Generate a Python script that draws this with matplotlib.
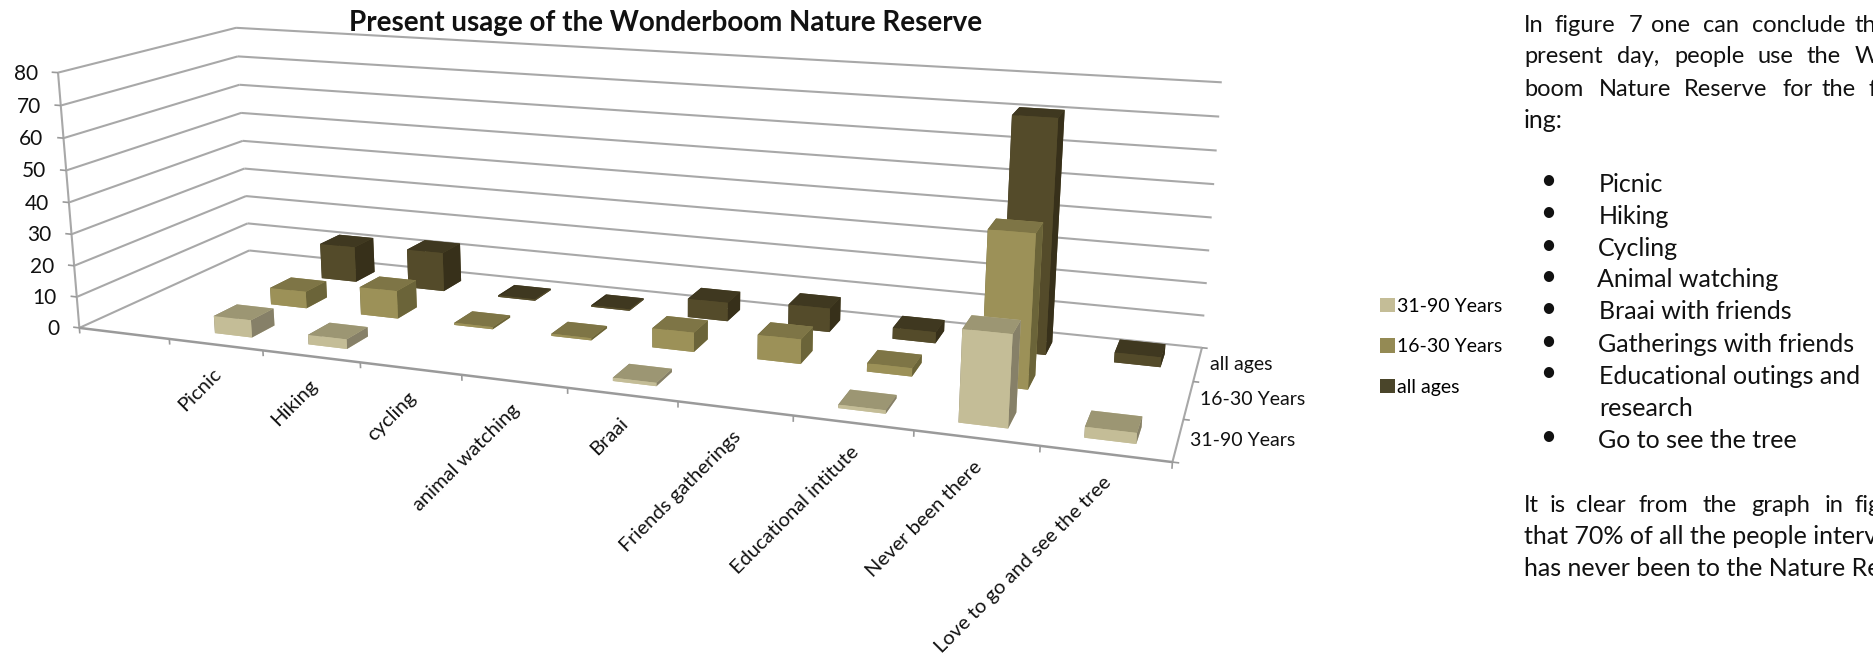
import numpy as np
import matplotlib
matplotlib.use("Agg")
import matplotlib.pyplot as plt
from matplotlib.patches import Patch
from mpl_toolkits.mplot3d import proj3d
from mpl_toolkits.mplot3d.art3d import Line3DCollection

# ---------- data ----------
title = "Present usage of the Wonderboom Nature Reserve"
categories = ["Picnic", "Hiking", "cycling", "animal watching", "Braai",
              "Friends gatherings", "Educational intitute", "Never been there",
              "Love to go and see the tree"]
series_names = ["31-90 Years", "16-30 Years", "all ages"]
young_old = [5.5, 3, 0, 0, 1, 0, 1, 26, 3]      # 31-90 Years
youth = [5.5, 9, 0.7, 0.7, 6, 7.5, 2.5, 45, 0]  # 16-30 Years
all_ages = [12, 13, 0.5, 0.5, 6, 7.5, 3.5, 71, 3]  # all ages
series_values = [young_old, youth, all_ages]
value_ticks = [0, 10, 20, 30, 40, 50, 60, 70, 80]

# face colours per series: front, top, side
front = ["#C4BD97", "#9C9158", "#544B2A"]
top = ["#9C9673", "#7E7546", "#3F3820"]
side = ["#868068", "#6B6439", "#37301A"]
legend_colors = ["#C4BD97", "#948A54", "#4A452A"]

FONT = "Lato"
W, H = 1874, 655
GRID = "#A8A8A8"
AXIS = "#9A9A9A"

# ---------- camera: a 3D view fitted to the reference's wall corners ----------
camera_fit = [
    ((0, 0, 0), (79, 328)), ((0, 0, 80), (59, 72)),
    ((0, 3, 0), (250, 251)), ((0, 3, 80), (235, 28)),
    ((10, 3, 0), (1202, 347)), ((10, 3, 80), (1222, 83)),
    ((10, 0, 0), (1172, 462)), ((10, 1, 0), (1184, 418)), ((10, 2, 0), (1193, 381)),
    ((1, 0, 0), (169, 339)), ((3, 0, 0), (360, 362)), ((5, 0, 0), (568, 388)),
    ((7, 0, 0), (793, 416)), ((9, 0, 0), (1040, 448)),
    ((0, 0, 40), (69, 202)),
]
A, b = [], []
for (X, Y, Z), (u, v) in camera_fit:
    A.append([X, Y, Z, 1, 0, 0, 0, 0, -u * X, -u * Y, -u * Z]); b.append(u)
    A.append([0, 0, 0, 0, X, Y, Z, 1, -v * X, -v * Y, -v * Z]); b.append(v)
p = np.linalg.lstsq(np.array(A, float), np.array(b, float), rcond=None)[0]
M = np.array([[p[0], p[1], p[2], p[3]],
              [p[4], p[5], p[6], p[7]],
              [-0.002, 0.1, -0.0005, 0.0],
              [p[8], p[9], p[10], 1.0]])

plt.rcParams["font.family"] = [FONT, "DejaVu Sans"]
fig = plt.figure(figsize=(W / 100, H / 100), dpi=100, facecolor="white")
ax = fig.add_axes([0, 0, 1, 1], projection="3d", computed_zorder=False)
ax.get_proj = lambda: M
ax.apply_aspect = lambda position=None: None
ax.M = M
ax.set_axis_off()


def to_px(x, y, z):
    u, v, _ = proj3d.proj_transform(x, y, z, M)
    return float(u), float(v)


def px_text(u, v, s, **kw):
    return ax.text2D(u, v, s, transform=ax.transData, **kw)


# ---------- walls ----------
grid_segments, axis_segments, thick_segments = [], [], []
for z in value_ticks:
    grid_segments.append([(0, 0, z), (0, 3, z)])
    grid_segments.append([(0, 3, z), (10, 3, z)])
    axis_segments.append([(-0.07, 0, z), (0, 0, z)])
    u, v = to_px(0, 0, z)
    px_text(u - 20, v + 1, str(z), ha="right", va="center", fontsize=15, color="#111111")
grid_segments.append([(0, 0, 0), (0, 0, 80)])
grid_segments.append([(10, 0, 0), (10, 3, 0)])
thick_segments.append([(0, 0, 0), (10, 0, 0)])
for i in range(11):
    axis_segments.append([(i, 0, 0), (i, 0, -1.8)])
for j in range(4):
    axis_segments.append([(10, j, 0), (10.05, j, 0)])
ax.add_collection3d(Line3DCollection(grid_segments, colors=GRID, linewidths=1.5, zorder=1))
ax.add_collection3d(Line3DCollection(axis_segments, colors=AXIS, linewidths=1.2, zorder=1))
ax.add_collection3d(Line3DCollection(thick_segments, colors=AXIS, linewidths=1.8, zorder=1))

# ---------- bars ----------
bar_w, bar_d = 0.4, 0.4
for row, values in reversed(list(enumerate(series_values))):
    for c, val in enumerate(values):
        if val <= 0:
            continue
        cols = [front[row], top[row], front[row], front[row], side[row], side[row]]
        ax.bar3d([c + 1.5 - bar_w / 2], [row + 0.5 - bar_d / 2], [0],
                 bar_w, bar_d, val, color=cols, shade=False,
                 zorder=10 + (2 - row) * 10 + c * 0.1, linewidth=0)

# ---------- axis labels ----------
for i, name in enumerate(categories):
    u, v = to_px(i + 1.5, 0, 0)
    px_text(u + 3, v + 26, name, rotation=45, rotation_mode="anchor",
            ha="right", va="center", fontsize=14.5, color="#111111")
for j, name in enumerate(series_names):
    u, v = to_px(10, j + 0.5, 0)
    px_text(u + 12, v, name, ha="left", va="center", fontsize=14, color="#111111")

px_text(666, 31, title, ha="center", va="baseline", fontsize=20,
        fontweight="bold", color="#111111")

# ---------- legend ----------
handles = [Patch(facecolor=c, edgecolor="none") for c in legend_colors]
leg = ax.legend(handles, series_names, loc="upper left",
                bbox_to_anchor=(1380 / W, 1 - 298 / H), bbox_transform=fig.transFigure,
                frameon=False, fontsize=14, handlelength=0.75, handleheight=0.75,
                handletextpad=0.15, labelspacing=1.2, borderpad=0, borderaxespad=0)
leg.set_zorder(100)

# ---------- page text ----------
BODY = 18
INK = "#111111"


def words(y, pairs, size=BODY):
    for x, s in pairs:
        px_text(x, y, s, fontsize=size, color=INK, va="baseline", ha="left")


words(32, [(1524, "In"), (1555, "figure"), (1629, "7"), (1651, "one"), (1703, "can"),
           (1752, "conclude"), (1855, "th")], 17)
words(63, [(1524, "present"), (1617, "day,"), (1674, "people"), (1758, "use"),
           (1807, "the"), (1855, "W")], 17)
words(96, [(1524, "boom"), (1599, "Nature"), (1684, "Reserve"), (1783, "for"),
           (1822, "the"), (1869, "f")], 17)
words(128, [(1524, "ing:")])
bullets = [(181, 192, 1599, "Picnic"), (213, 224, 1599, "Hiking"), (246, 256, 1598, "Cycling"),
           (277, 287, 1597, "Animal watching"), (309, 319, 1599, "Braai with friends"),
           (342, 352, 1598, "Gatherings with friends"), (373, 384, 1599, "Educational outings and"),
           (None, 416, 1599, "research"), (437, 448, 1598, "Go to see the tree")]
for by, ty, tx, s in bullets:
    if by is not None:
        px_text(1548, by, "\u2022", fontsize=20, color=INK, ha="center", va="center")
    words(ty, [(tx, s)])
words(512, [(1524, "It"), (1550, "is"), (1576, "clear"), (1639, "from"), (1703, "the"),
            (1751, "graph"), (1825, "in"), (1855, "fig")], 17)
words(544, [(1524, "that 70% of all the people interv")])
words(576, [(1524, "has never been to the Nature Re")])

ax.viewLim.intervalx = (0, W)
ax.viewLim.intervaly = (H, 0)
fig.savefig("out.png", dpi=100, facecolor="white")
